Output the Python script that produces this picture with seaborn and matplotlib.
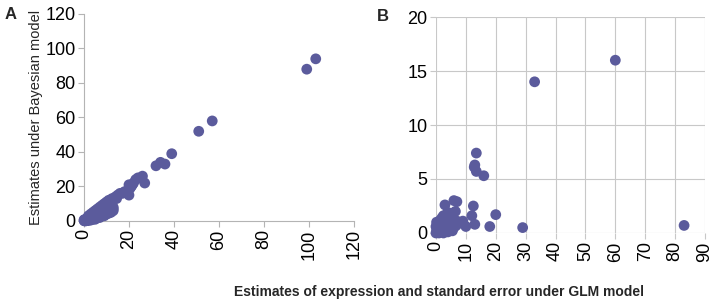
import numpy as np
import pandas as pd
import matplotlib
matplotlib.use('Agg')
import matplotlib.pyplot as plt
import seaborn as sns

sns.set_style('white')
plt.rcParams['font.family'] = ['Liberation Sans', 'DejaVu Sans']

# ---------------- data ----------------
# panel A: GLM estimate vs Bayesian estimate (expression)
a_x = [103, 99, 57, 51, 39, 36, 34, 32, 27, 26, 24, 23, 22, 21, 20, 20, 18, 17, 16, 15,
       14, 13, 13, 12.5, 12, 12, 11.5, 11, 11, 10.5, 10, 10, 9.5, 9, 9, 8.5, 8, 8, 7.5, 7,
       7, 6.5, 6, 6, 5.5, 5, 5, 4.5, 4, 4, 3.5, 3, 3, 2.5, 2, 2, 1.5, 1, 1, 0.5,
       0.3, 0.1, 0.2, 0.8, 1.3, 2.3, 3.3, 4.3, 5.3, 6.3, 7.3, 8.3, 9.3, 10.3, 11.3, 12.3,
       20.5, 21.5, 19.5, 14.5, 10, 11, 12, 6, 8, 0, 0.6, 1.8,
       3, 4, 5, 6, 7, 8, 9, 10, 11, 12, 13, 5, 7, 9]
a_y = [94, 88, 58, 52, 39, 33, 34, 32, 22, 26, 25, 24, 22, 20, 15, 21, 17, 16, 16, 15,
       14, 6, 8, 13, 7, 12, 11, 12, 8, 10, 11, 6, 9, 10, 5, 8, 9, 4, 7, 8,
       4, 6, 7, 3, 5, 6, 2, 4, 5, 2, 3, 4, 1, 2, 3, 1, 1.5, 1, 0.5, 0.5,
       0.2, 0.1, 0.8, 0.3, 0.6, 1.5, 2.2, 3.0, 3.8, 4.6, 5.2, 6.0, 6.6, 7.4, 8.2, 9.0,
       19, 21, 17, 13, 8, 9.5, 10, 4.5, 6.5, 0.5, 0, 0.2,
       0.5, 1, 1.5, 2, 2.5, 3, 3.5, 4, 4.5, 5, 7, 1, 2, 3]

# panel B: GLM standard error vs Bayesian standard error
b_x = [60, 33, 83, 29, 18, 20, 13.5, 13, 12.8, 13.5, 16, 6, 7, 3, 12.5, 12, 9, 10, 13,
       6.5, 5, 4, 4.5, 5.5, 2.5, 3.5, 2, 1.5, 1, 0.5, 0.3, 0.2, 0.8, 1.2, 1.8, 2.2, 2.8,
       3.2, 3.8, 4.2, 4.8, 5.2, 5.8, 6.2, 6.8, 1, 2, 3, 4, 5, 6, 0.5, 1.5, 2.5, 3.5, 4.5,
       0, 0, 0.2, 1, 2.5, 4, 5.5, 7]
b_y = [16, 14, 0.7, 0.5, 0.6, 1.7, 7.4, 6.3, 6.1, 5.7, 5.3, 3.0, 2.9, 2.6, 2.5, 1.6, 1.1, 0.6, 0.8,
       2.0, 1.8, 1.9, 1.5, 1.4, 1.6, 1.7, 1.4, 1.2, 1.0, 0.8, 0.5, 0.2, 0.6, 0.9, 1.1, 1.3, 1.5,
       1.2, 1.0, 1.3, 1.1, 0.9, 1.2, 0.8, 0.7, 0.3, 0.4, 0.5, 0.6, 0.4, 0.5, 0.1, 0.2, 0.2, 0.3, 0.3,
       0, 0.6, 1.0, 0, 0, 0.1, 0.2, 1.1]

a_xticks = [0, 20, 40, 60, 80, 100, 120]
a_yticks = [0, 20, 40, 60, 80, 100, 120]
b_xticks = [0, 10, 20, 30, 40, 50, 60, 70, 80, 90]
b_yticks = [0, 5, 10, 15, 20]

DOT = '#5b5b9c'
GRID = '#c8c8c8'
TICK_FS = 13

df_a = pd.DataFrame({'glm': a_x, 'bayes': a_y})
df_b = pd.DataFrame({'glm': b_x, 'bayes': b_y})

fig = plt.figure(figsize=(7.14, 3.06), dpi=100)
ax_a = fig.add_axes([0.1176, 0.2778, 0.3782, 0.6765])
ax_b = fig.add_axes([0.6106, 0.2386, 0.3768, 0.7058])

# ---- panel A ----
sns.scatterplot(data=df_a, x='glm', y='bayes', ax=ax_a, color=DOT, s=60,
                edgecolor='none', linewidth=0, clip_on=False, zorder=3)
ax_a.set_xlim(0, 120)
ax_a.set_ylim(0, 120)
ax_a.set_xticks(a_xticks)
ax_a.set_yticks(a_yticks)
ax_a.set_xticklabels([str(t) for t in a_xticks], rotation=90)
for s in ['top', 'right']:
    ax_a.spines[s].set_visible(False)
for s in ['left', 'bottom']:
    ax_a.spines[s].set_color('#b4b4b4')
    ax_a.spines[s].set_linewidth(0.8)
ax_a.tick_params(axis='both', length=4, width=0.8, color='#b4b4b4',
                 labelsize=TICK_FS, labelcolor='black', pad=2, direction='out')
ax_a.tick_params(axis='both', which='both', bottom=True, left=True)
ax_a.set_xlabel('')
ax_a.set_ylabel('Estimates under Bayesian model', fontsize=10.5, labelpad=2)

# ---- panel B ----
sns.scatterplot(data=df_b, x='glm', y='bayes', ax=ax_b, color=DOT, s=60,
                edgecolor='none', linewidth=0, zorder=3, clip_on=False)
ax_b.set_xlim(0, 90)
ax_b.set_ylim(0, 20)
ax_b.set_xticks(b_xticks)
ax_b.set_yticks(b_yticks)
ax_b.set_xticklabels([str(t) for t in b_xticks], rotation=90)
ax_b.grid(True, color=GRID, linewidth=0.8)
ax_b.set_axisbelow(True)
for s in ax_b.spines.values():
    s.set_visible(False)
ax_b.tick_params(axis='both', length=4, width=0.8, color=GRID,
                 labelsize=TICK_FS, labelcolor='black', pad=2, direction='out')
ax_b.tick_params(axis='both', which='both', bottom=True, left=True)
ax_b.set_xlabel('')
ax_b.set_ylabel('')

# panel letters and shared x label
fig.text(0.007, 0.952, 'A', fontsize=12, fontweight='bold', va='center', ha='left')
fig.text(0.528, 0.945, 'B', fontsize=12, fontweight='bold', va='center', ha='left')
fig.text(0.615, 0.045, 'Estimates of expression and standard error under GLM model',
         fontsize=10, fontweight='bold', ha='center', va='center')

fig.savefig('out.png', dpi=100)
